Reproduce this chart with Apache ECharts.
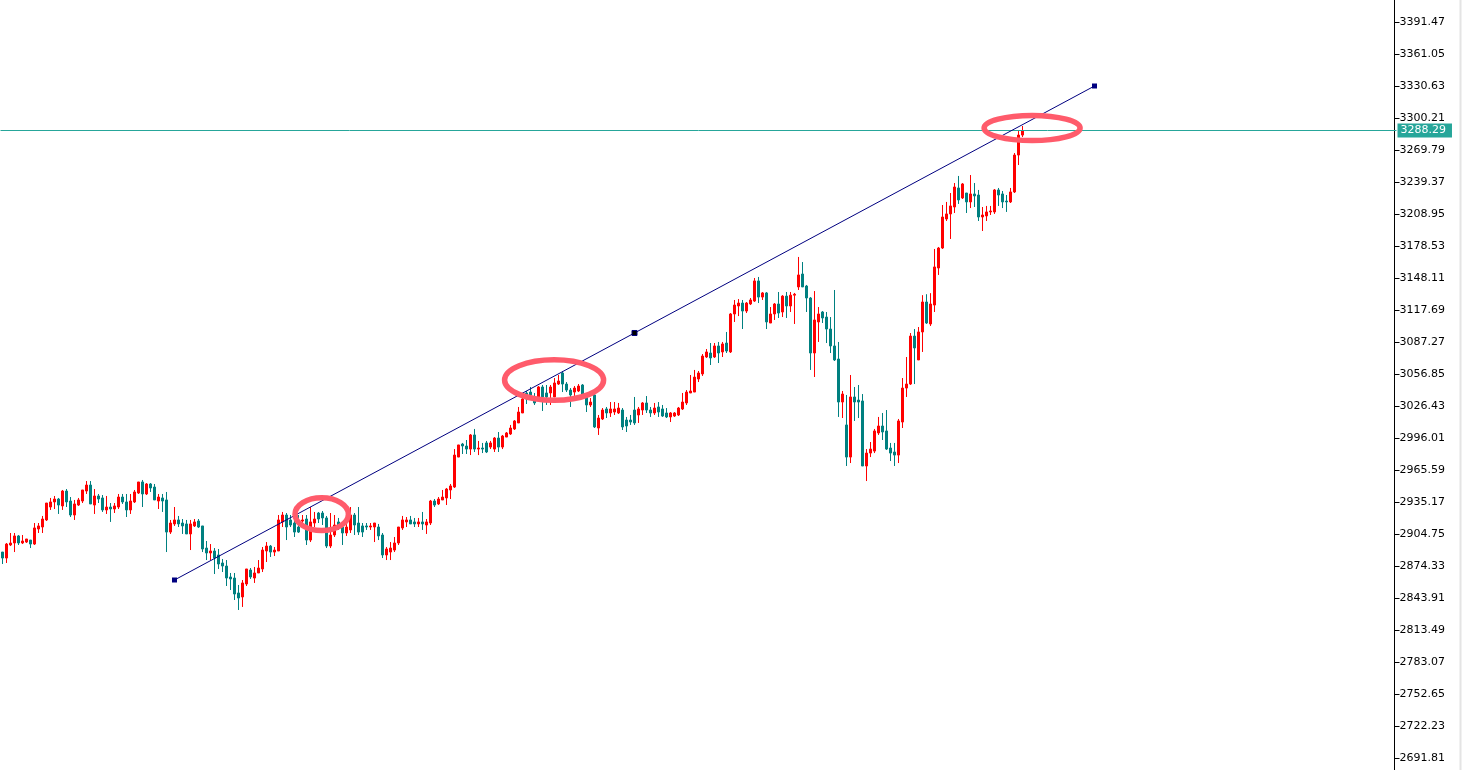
<!DOCTYPE html>
<html><head><meta charset="utf-8">
<script src="https://cdn.jsdelivr.net/npm/echarts@6/dist/echarts.min.js"></script>
<style>html,body{margin:0;padding:0;background:#fff;overflow:hidden}#c{width:1465px;height:770px}</style>
</head><body><div id="c"></div>
<script>
const opens = [
2887.6,2881.9,2894.3,2896.2,2902.9,2896.2,2897.1,2899.0,2895.2,2909.5,
2911.4,2918.1,2930.4,2935.2,2938.0,2931.4,2945.6,2936.1,2922.8,2932.3,
2936.1,2945.6,2951.3,2932.3,2940.9,2939.0,2927.6,2930.4,2928.5,2930.4,
2939.9,2935.2,2927.6,2935.2,2943.7,2954.2,2942.8,2952.3,2949.4,2936.1,
2939.0,2937.1,2906.6,2914.3,2918.1,2915.2,2914.3,2904.8,2912.4,2917.1,
2912.4,2891.4,2886.7,2888.6,2884.8,2877.2,2874.3,2863.9,2862.9,2848.7,
2844.9,2857.2,2870.5,2862.9,2867.7,2871.5,2888.6,2893.3,2887.6,2888.6,
2916.2,2922.8,2918.1,2915.2,2911.4,2917.1,2919.0,2899.0,2915.2,2924.7,
2924.7,2920.0,2893.3,2903.8,2916.2,2911.4,2905.7,2908.6,2922.8,2915.2,
2912.4,2912.4,2911.4,2911.4,2911.4,2903.8,2884.8,2887.6,2889.5,2896.2,
2910.5,2916.2,2918.1,2916.2,2914.3,2916.2,2913.3,2915.2,2936.1,2933.3,
2937.1,2939.0,2946.6,2949.4,2977.9,2990.3,2988.4,2985.5,2998.9,2985.5,
2986.5,2991.3,2987.4,2985.5,2996.0,2987.4,2996.9,2999.8,3004.6,3010.3,
3019.8,3038.8,3039.7,3035.0,3035.0,3044.5,3038.8,3038.8,3035.0,3047.3,
3057.8,3047.3,3041.6,3039.7,3040.7,3046.4,3036.9,3027.4,3036.9,3005.5,
3014.1,3023.6,3019.8,3020.7,3019.8,3022.6,3013.1,3013.1,3022.6,3017.9,
3022.6,3029.3,3022.6,3019.8,3025.5,3023.6,3019.8,3016.0,3016.9,3017.9,
3023.6,3029.3,3038.8,3039.7,3052.1,3056.9,3073.0,3076.8,3073.0,3083.5,
3077.8,3086.3,3077.8,3113.9,3121.5,3124.3,3116.7,3123.4,3126.2,3145.3,
3130.0,3133.9,3105.3,3113.9,3123.4,3115.8,3130.9,3121.5,3131.8,3139.6,
3151.9,3140.5,3129.1,3076.8,3106.3,3115.8,3111.0,3099.6,3083.5,3071.1,
3030.2,3008.4,2977.9,3035.0,3032.1,3031.2,2969.4,2981.7,2983.6,3000.8,
3007.4,3002.7,2986.5,2982.7,2979.8,3011.2,3043.5,3047.3,3092.9,3070.2,
3096.8,3125.3,3104.4,3122.4,3157.6,3176.6,3204.2,3209.0,3215.6,3233.7,
3224.2,3228.9,3220.4,3228.0,3227.0,3206.1,3207.1,3210.9,3210.9,3231.8,
3228.0,3221.3,3220.4,3229.9,3265.0,3284.0
];
const closes = [
2881.9,2895.2,2896.2,2902.9,2896.2,2898.1,2900.0,2895.2,2910.5,2912.4,
2919.0,2934.2,2935.2,2938.0,2932.3,2945.6,2935.2,2922.8,2933.3,2937.1,
2946.6,2951.3,2933.3,2940.9,2938.0,2927.6,2930.4,2928.5,2931.4,2939.9,
2935.2,2927.6,2936.1,2944.7,2954.2,2942.8,2952.3,2948.5,2937.1,2939.9,
2936.1,2906.6,2915.2,2918.1,2914.3,2912.4,2904.8,2914.3,2916.2,2911.4,
2890.5,2886.7,2888.6,2881.9,2876.2,2874.3,2862.9,2862.0,2847.7,2843.9,
2858.2,2871.5,2863.9,2867.7,2872.4,2889.5,2893.3,2887.6,2889.5,2918.1,
2922.8,2911.4,2913.3,2906.6,2906.6,2918.1,2899.0,2916.2,2919.0,2919.0,
2920.0,2893.3,2903.8,2913.3,2911.4,2905.7,2911.4,2922.8,2913.3,2906.6,
2906.6,2911.4,2912.4,2915.2,2902.9,2884.8,2890.5,2891.4,2896.2,2911.4,
2918.1,2918.1,2914.3,2914.3,2916.2,2914.3,2916.2,2936.1,2932.3,2938.0,
2939.9,2947.5,2950.4,2979.8,2989.4,2988.4,2985.5,2998.9,2985.5,2986.5,
2985.5,2982.7,2991.3,2996.0,2987.4,2997.9,3000.8,3005.5,3012.2,3020.7,
3033.1,3033.1,3036.9,3029.3,3044.5,3035.0,3035.0,3044.5,3048.3,3050.2,
3047.3,3041.6,3036.9,3043.5,3045.4,3036.9,3027.4,3030.2,3006.5,3015.0,
3022.6,3019.8,3023.6,3023.6,3024.5,3006.5,3007.4,3011.2,3010.3,3023.6,
3029.3,3022.6,3019.8,3024.5,3020.7,3016.9,3016.0,3019.8,3019.8,3024.5,
3030.2,3039.7,3040.7,3053.9,3057.8,3073.9,3077.8,3072.1,3083.5,3076.8,
3085.4,3078.7,3113.9,3122.4,3124.3,3116.7,3124.3,3127.2,3145.3,3130.0,
3133.9,3106.3,3113.9,3123.4,3114.8,3130.9,3121.5,3131.8,3132.7,3151.0,
3139.6,3129.1,3076.8,3108.2,3113.9,3110.1,3099.6,3083.5,3070.2,3030.2,
3037.8,2977.9,3035.0,3030.2,3030.2,2969.4,2981.7,2985.5,3002.7,3007.4,
3001.7,2985.5,2981.7,2979.8,3012.2,3043.5,3047.3,3092.9,3081.6,3096.8,
3125.3,3105.3,3123.4,3158.6,3176.6,3206.1,3209.0,3216.6,3234.6,3222.3,
3237.5,3220.4,3228.0,3226.1,3206.1,3208.0,3210.9,3211.8,3231.8,3227.0,
3220.4,3220.4,3229.9,3265.0,3284.0,3288.29
];
const lows = [
2876.2,2877.2,2893.3,2887.6,2894.3,2895.2,2896.2,2891.4,2894.3,2905.7,
2905.7,2917.1,2927.6,2928.5,2923.8,2927.6,2930.4,2920.9,2918.1,2931.4,
2934.2,2942.8,2933.3,2923.8,2934.2,2925.7,2923.8,2916.2,2924.7,2928.5,
2933.3,2920.9,2923.8,2934.2,2942.8,2930.4,2941.8,2944.7,2937.1,2928.5,
2925.7,2887.6,2904.8,2912.4,2911.4,2904.8,2904.8,2889.5,2911.4,2910.5,
2887.6,2880.0,2880.0,2866.7,2871.5,2868.6,2855.3,2851.5,2842.0,2832.5,
2835.4,2855.3,2862.0,2858.2,2867.7,2868.6,2878.1,2882.9,2883.8,2888.6,
2911.4,2899.0,2911.4,2901.9,2905.7,2913.3,2894.3,2897.1,2911.4,2915.2,
2913.3,2891.4,2891.4,2901.9,2908.6,2894.3,2902.9,2905.7,2903.8,2903.8,
2901.9,2908.6,2908.6,2897.1,2899.0,2881.9,2880.0,2880.0,2887.6,2894.3,
2908.6,2911.4,2914.3,2911.4,2911.4,2908.6,2904.8,2913.3,2930.4,2932.3,
2937.1,2932.3,2938.0,2948.5,2977.9,2980.8,2980.8,2979.8,2982.7,2979.8,
2981.7,2981.7,2985.5,2982.7,2982.7,2985.5,2996.9,2998.9,3003.6,3010.3,
3019.8,3028.3,3035.0,3027.4,3035.0,3021.7,3027.4,3027.4,3035.0,3046.4,
3039.7,3039.7,3025.5,3035.0,3039.7,3035.0,3020.7,3025.5,3005.5,2998.9,
3013.1,3015.0,3016.0,3017.9,3018.8,3003.6,3001.7,3008.4,3008.4,3010.3,
3017.9,3019.8,3016.0,3017.9,3016.0,3016.0,3015.0,3011.2,3016.0,3016.9,
3022.6,3027.4,3038.8,3039.7,3049.2,3055.0,3072.1,3065.4,3072.1,3067.3,
3073.0,3076.8,3076.8,3106.3,3111.9,3099.6,3114.8,3122.4,3125.3,3124.3,
3127.2,3099.6,3105.3,3108.2,3110.1,3111.0,3110.1,3115.8,3104.4,3136.7,
3139.6,3115.8,3060.7,3054.0,3087.3,3105.3,3086.3,3076.8,3069.2,3016.0,
3015.0,2969.4,2972.2,3012.2,3015.0,2969.4,2955.1,2977.9,2981.7,2998.9,
2994.1,2984.6,2974.1,2969.4,2972.2,3005.5,3035.0,3046.4,3047.3,3070.2,
3077.8,3104.4,3102.5,3115.8,3151.0,3175.7,3202.3,3185.2,3209.9,3218.5,
3223.2,3209.9,3214.6,3215.6,3202.3,3192.8,3202.3,3208.0,3209.0,3216.6,
3214.6,3210.9,3219.4,3228.9,3255.5,3282.1
];
const highs = [
2887.6,2896.2,2905.7,2905.7,2903.8,2903.8,2900.0,2899.0,2915.2,2915.2,
2921.9,2934.2,2939.0,2940.9,2939.0,2946.6,2947.5,2939.9,2937.1,2939.0,
2946.6,2955.1,2955.1,2947.5,2942.8,2941.8,2940.9,2934.2,2934.2,2942.8,
2942.8,2942.8,2942.8,2946.6,2954.2,2956.1,2953.2,2953.2,2952.3,2942.8,
2942.8,2944.7,2918.1,2930.4,2921.9,2919.0,2918.1,2918.1,2919.0,2919.0,
2912.4,2898.1,2895.2,2891.4,2890.5,2881.0,2880.0,2867.7,2867.7,2856.3,
2861.0,2871.5,2872.4,2873.4,2880.0,2892.4,2897.1,2894.3,2892.4,2922.8,
2925.7,2924.7,2922.8,2920.0,2922.8,2922.8,2922.8,2930.4,2925.7,2925.7,
2926.6,2921.9,2924.7,2922.8,2920.0,2916.2,2918.1,2930.4,2924.7,2930.4,
2915.2,2915.2,2915.2,2915.2,2914.3,2905.7,2892.4,2897.1,2901.9,2911.4,
2921.9,2920.9,2921.9,2920.0,2920.0,2925.7,2919.0,2937.1,2938.0,2939.9,
2946.6,2948.5,2952.3,2985.5,2989.4,2991.3,2994.1,2999.8,3004.6,2993.2,
2991.3,2993.2,2993.2,2996.9,3001.7,2998.9,3001.7,3008.4,3013.1,3025.5,
3035.0,3040.7,3044.5,3038.8,3045.4,3046.4,3046.4,3046.4,3053.0,3055.9,
3059.7,3049.2,3043.5,3045.4,3047.3,3047.3,3038.8,3034.0,3038.8,3017.9,
3024.5,3025.5,3030.2,3030.2,3029.3,3024.5,3016.0,3017.9,3035.0,3025.5,
3030.2,3035.9,3025.5,3029.3,3030.2,3027.4,3024.5,3020.7,3020.7,3025.5,
3038.8,3041.6,3055.9,3060.7,3059.7,3075.8,3080.6,3086.3,3086.3,3087.3,
3087.3,3096.8,3114.8,3127.2,3128.1,3127.2,3125.3,3129.1,3148.1,3149.1,
3134.8,3134.8,3120.5,3124.3,3134.8,3131.8,3134.8,3134.8,3133.9,3168.1,
3163.3,3141.5,3130.0,3135.7,3120.5,3116.7,3115.8,3111.0,3136.7,3087.3,
3040.7,3036.9,3055.9,3044.5,3046.4,3037.8,2985.5,2992.2,3004.6,3016.0,
3019.8,3022.6,2991.3,2991.3,3014.1,3053.0,3073.0,3095.8,3099.6,3101.5,
3131.8,3132.7,3133.7,3175.7,3177.6,3217.5,3220.4,3228.9,3238.4,3245.1,
3238.4,3228.9,3246.0,3238.4,3231.8,3215.6,3216.6,3216.6,3232.7,3233.7,
3230.8,3227.0,3233.7,3266.9,3287.8,3292.6
];
const tickLabels = [2691.81,2722.23,2752.65,2783.07,2813.49,2843.91,2874.33,2904.75,2935.17,2965.59,
  2996.01,3026.43,3056.85,3087.27,3117.69,3148.11,3178.53,3208.95,3239.37,3269.79,3300.21,3330.63,3361.05,3391.47];
const priceMin = 2680.40, priceMax = 3412.38;
const currentPrice = 3288.29;
const trendStart = [43, 2861.02];
const trendMid = [158, 3095.83];
const trendEnd = [273, 3330.63];
const highlightCenters = [[79.8, 2923.6], [137.9, 3051.1], [257.4, 3290.7]];
const highlightRadii = [[26.7, 16.4], [49.5, 20.3], [48, 12.6]];
const slotCount = 349;

const categories = Array.from({length: slotCount}, (_, i) => String(i));
const candles = opens.map((o, i) => [o, closes[i], lows[i], highs[i]]);

const chart = echarts.init(document.getElementById('c'), null, {renderer: 'canvas'});
const FONT = 'DejaVu Sans';
chart.setOption({
  animation: false,
  backgroundColor: '#ffffff',
  grid: {left: 0.5, right: 68.5, top: 0, bottom: 0, containLabel: false},
  xAxis: {type: 'category', data: categories, show: false, boundaryGap: true},
  yAxis: {
    type: 'value', position: 'right', offset: -2, min: priceMin, max: priceMax,
    splitLine: {show: false},
    axisLine: {show: true, lineStyle: {color: '#000', width: 1}},
    axisTick: {show: true, length: 5, lineStyle: {color: '#000'}, customValues: tickLabels},
    axisLabel: {color: '#000', fontFamily: FONT, fontSize: 11, margin: 5,
      customValues: tickLabels, formatter: v => Number(v).toFixed(2)}
  },
  series: [
    {
      type: 'candlestick', data: candles, barWidth: 2,
      itemStyle: {color: '#ff0000', color0: '#008080', borderColor: '#ff0000', borderColor0: '#008080', borderWidth: 1},
      markLine: {
        silent: true, symbol: ['none', 'none'], animation: false,
        data: [{yAxis: currentPrice}],
        lineStyle: {color: '#26a69a', type: 'solid', width: 1},
        label: {show: true, position: 'end', formatter: currentPrice.toFixed(2), color: '#fff',
          backgroundColor: '#26a69a', padding: [2, 6, 1, 3], distance: 1, fontFamily: FONT, fontSize: 11}
      }
    },
    {
      type: 'line', z: 5, showAllSymbol: true,
      data: [
        {value: trendStart},
        {value: trendMid, itemStyle: {color: '#000000', borderColor: '#000080', borderWidth: 1}},
        {value: trendEnd}
      ],
      symbol: 'rect', symbolSize: 5,
      lineStyle: {color: '#000080', width: 1},
      itemStyle: {color: '#000080'}
    }
  ]
});

function toPx(ix, p) {
  const i0 = Math.floor(ix), f = ix - i0;
  const a = chart.convertToPixel({gridIndex: 0}, [i0, p]);
  const b = chart.convertToPixel({gridIndex: 0}, [i0 + 1, p]);
  return [a[0] + (b[0] - a[0]) * f, a[1]];
}
const ellipses = highlightCenters.map((c, i) => {
  const [cx, cy] = toPx(c[0], c[1]);
  return {type: 'ellipse', z: 100, silent: true,
    shape: {cx: cx, cy: cy, rx: highlightRadii[i][0], ry: highlightRadii[i][1]},
    style: {fill: null, stroke: '#ff5b6b', lineWidth: 5.5}};
});
ellipses.push({type: 'rect', z: 100, silent: true, shape: {x: 1459.5, y: 0, width: 2, height: 770}, style: {fill: '#e4e4e4'}});
chart.setOption({graphic: ellipses});
</script>
</body></html>
